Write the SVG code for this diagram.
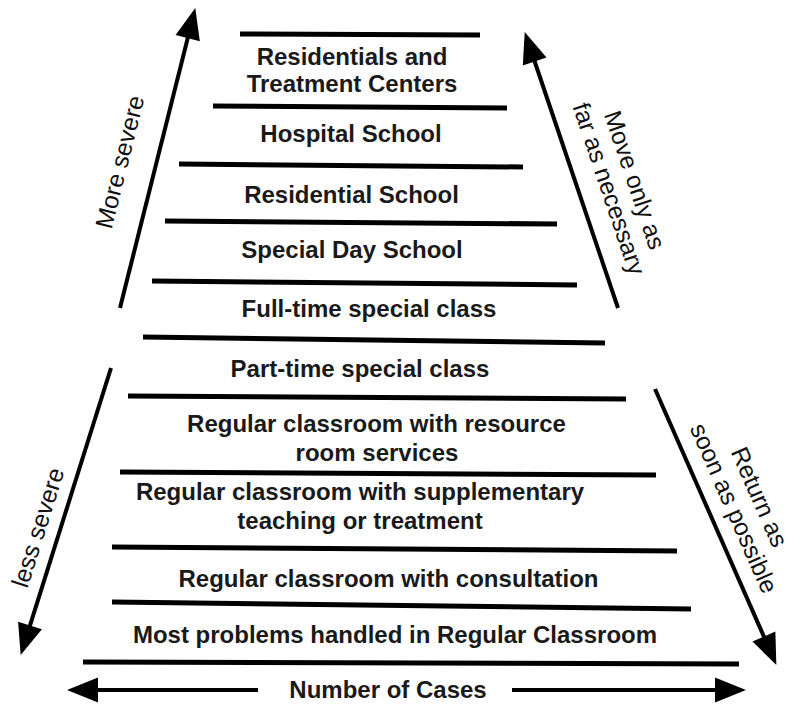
<svg xmlns="http://www.w3.org/2000/svg" width="787" height="707" viewBox="0 0 787 707">
  <style>
    .tier { font-family: "Liberation Sans", Arial, sans-serif; font-weight: bold; font-size: 24px; fill: #1a1a1a; text-anchor: middle; }
    .side { font-family: "Liberation Sans", Arial, sans-serif; font-size: 24.5px; fill: #111; text-anchor: middle; }
    .rule { stroke: #000; stroke-width: 5; fill: none; }
    .arrow { stroke: #000; stroke-width: 4; fill: none; marker-end: url(#head); }
  </style>
  <defs>
    <marker id="head" markerUnits="userSpaceOnUse" markerWidth="36" markerHeight="28" refX="2" refY="0" orient="auto" overflow="visible">
      <path d="M0,-12.5 L31,0 L0,12.5 Z" fill="#000"/>
    </marker>
  </defs>
  <rect width="787" height="707" fill="#fff"/>

  <!-- divider rules between tiers -->
  <g id="dividers">
    <line class="rule" x1="240" y1="34" x2="480" y2="35"/>
    <line class="rule" x1="213" y1="106" x2="507" y2="108"/>
    <line class="rule" x1="179" y1="164" x2="523" y2="167"/>
    <line class="rule" x1="165" y1="221" x2="557" y2="224"/>
    <line class="rule" x1="152" y1="281" x2="577" y2="285"/>
    <line class="rule" x1="143" y1="337" x2="605" y2="343"/>
    <line class="rule" x1="128" y1="396" x2="626" y2="399"/>
    <line class="rule" x1="120" y1="472" x2="656" y2="475"/>
    <line class="rule" x1="112" y1="547" x2="677" y2="551"/>
    <line class="rule" x1="112" y1="602" x2="691" y2="609"/>
    <line class="rule" x1="83" y1="662" x2="739" y2="664"/>
  </g>

  <!-- tiers, most restrictive at the top -->
  <g id="tier-residential-centers">
    <text class="tier" x="352" y="65">Residentials and</text>
    <text class="tier" x="352" y="92">Treatment Centers</text>
  </g>
  <g id="tier-hospital-school">
    <text class="tier" x="351" y="142">Hospital School</text>
  </g>
  <g id="tier-residential-school">
    <text class="tier" x="351.5" y="203">Residential School</text>
  </g>
  <g id="tier-special-day-school">
    <text class="tier" x="352" y="258">Special Day School</text>
  </g>
  <g id="tier-full-time-class">
    <text class="tier" x="369" y="317">Full-time special class</text>
  </g>
  <g id="tier-part-time-class">
    <text class="tier" x="360" y="377">Part-time special class</text>
  </g>
  <g id="tier-resource-room">
    <text class="tier" x="376.5" y="432">Regular classroom with resource</text>
    <text class="tier" x="377" y="461">room services</text>
  </g>
  <g id="tier-supplementary">
    <text class="tier" x="360" y="500">Regular classroom with supplementary</text>
    <text class="tier" x="360" y="529">teaching or treatment</text>
  </g>
  <g id="tier-consultation">
    <text class="tier" x="388.5" y="587">Regular classroom with consultation</text>
  </g>
  <g id="tier-regular-classroom">
    <text class="tier" x="395" y="643">Most problems handled in Regular Classroom</text>
  </g>

  <!-- direction arrows -->
  <g id="connectors">
    <line class="arrow" x1="120" y1="308" x2="188.2" y2="36.2"/>
    <line class="arrow" x1="618" y1="308" x2="534.0" y2="59.5"/>
    <line class="arrow" x1="111" y1="368" x2="29.4" y2="627.3"/>
    <line class="arrow" x1="655" y1="389" x2="764.7" y2="638.4"/>
    <line class="arrow" x1="258" y1="690" x2="96" y2="690"/>
    <line class="arrow" x1="512" y1="690" x2="717" y2="690"/>
  </g>

  <!-- arrow captions -->
  <g id="label-more-severe">
    <text class="side" transform="translate(128,164) rotate(-76)">More severe</text>
  </g>
  <g id="label-move-only">
    <g transform="translate(614,187) rotate(71.3)">
      <text class="side" x="0" y="-13.6">Move only as</text>
      <text class="side" x="0" y="13.6">far as necessary</text>
    </g>
  </g>
  <g id="label-less-severe">
    <text class="side" transform="translate(46,530) rotate(-72.5)">less severe</text>
  </g>
  <g id="label-return">
    <g transform="translate(739,506) rotate(66.3)">
      <text class="side" x="0" y="-14">Return as</text>
      <text class="side" x="0" y="14">soon as possible</text>
    </g>
  </g>
  <g id="label-number-of-cases">
    <text class="tier" x="388" y="698">Number of Cases</text>
  </g>
</svg>
